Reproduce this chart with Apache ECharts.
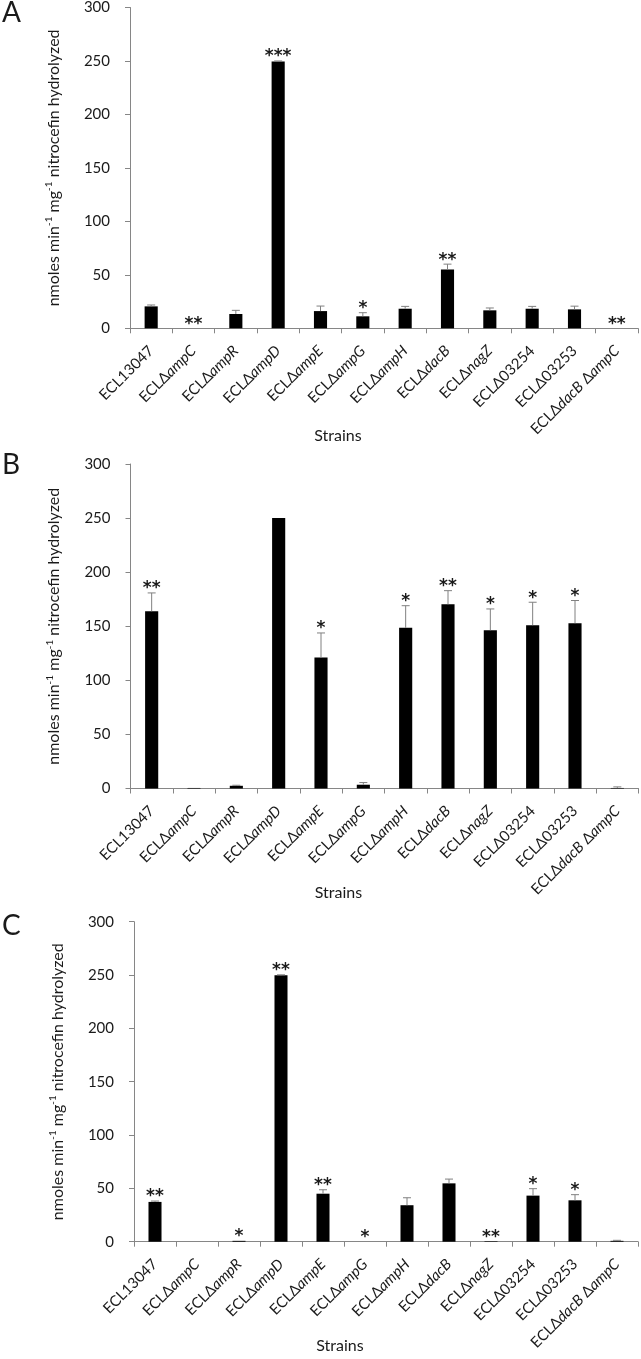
<!DOCTYPE html>
<html><head><meta charset="utf-8">
<script src="https://cdn.jsdelivr.net/npm/echarts@6/dist/echarts.min.js"></script>
<style>html,body{margin:0;padding:0;background:#fff}#c{width:641px;height:1359px}</style>
</head><body><div id="c"></div>
<script>
const strains = ['ECL13047','ECLΔampC','ECLΔampR','ECLΔampD','ECLΔampE','ECLΔampG','ECLΔampH','ECLΔdacB','ECLΔnagZ','ECLΔ03254','ECLΔ03253','ECLΔdacB ΔampC'];
const yTickValues = [0, 50, 100, 150, 200, 250, 300];

const valuesA = [20.5, 0, 13.4, 249.5, 16.1, 11.2, 18.3, 55.0, 16.8, 18.3, 17.7, 0];
const errorsA = [1.3, 0, 3.4, 0.5, 4.7, 3.4, 2.2, 5.0, 2.2, 2.2, 3.0, 0];
const starsA  = ['', '**', '', '***', '', '*', '', '**', '', '', '', '**'];

const valuesB = [163.8, 0.5, 2.5, 250, 121.0, 3.5, 148.5, 170.3, 146.3, 151.0, 152.8, 0.5];
const errorsB = [17.0, 0, 0.5, 0, 22.8, 2.0, 20.5, 12.6, 19.7, 21.2, 21.0, 1.0];
const starsB  = ['**', '', '', '', '*', '', '*', '**', '*', '*', '*', ''];

const valuesC = [37.3, 0, 0.8, 249.7, 45.0, 0, 34.2, 54.7, 0.5, 43.2, 38.8, 0.8];
const errorsC = [0.8, 0, 0, 0.5, 3.7, 0, 7.0, 4.0, 0, 6.5, 5.3, 0.5];
const starsC  = ['**', '', '*', '**', '**', '*', '', '', '**', '*', '*', ''];

const FONT = 'Lato';
const TXT = '#1a1a1a';
const AX = '#868686';

const grids = [
  {left: 130, top: 7.5, width: 508, height: 320.8},
  {left: 130.5, top: 464, width: 508, height: 324.5},
  {left: 134, top: 921.7, width: 504, height: 320}
];
const nameGaps = [100, 96, 96];

function fmt(v){ return v.replace(/Δ([A-Za-z]+)/g, 'Δ{i|$1}'); }

function makeRender(stars){
  return function(params, api){
    const i = api.value(0), v = api.value(1), e = api.value(2);
    const base = api.coord([i, v]);
    const top = api.coord([i, v + e]);
    const ch = [];
    if (e > 0) {
      ch.push({type:'line', shape:{x1:base[0], y1:base[1], x2:top[0], y2:top[1]}, style:{stroke:'#808080', lineWidth:1}});
      ch.push({type:'line', shape:{x1:top[0]-4, y1:top[1], x2:top[0]+4, y2:top[1]}, style:{stroke:'#808080', lineWidth:1}});
    }
    const s = stars[params.dataIndex];
    if (s) ch.push({type:'text', style:{text:s, x: top[0], y: top[1] - 4, align:'center', verticalAlign:'middle', font:'bold 17px "DejaVu Sans"', fill: TXT}});
    return {type:'group', children: ch};
  };
}

const xAxes = [], yAxes = [], series = [];
const sets = [[valuesA, errorsA, starsA],[valuesB, errorsB, starsB],[valuesC, errorsC, starsC]];
sets.forEach((st, g) => {
  xAxes.push({
    type:'category', gridIndex:g, data: strains,
    axisLine:{lineStyle:{color:AX, width:1}},
    axisTick:{show:true, length:5, lineStyle:{color:AX}},
    axisLabel:{rotate:45, margin:20, fontFamily:FONT, fontSize:15, color:TXT, interval:0, formatter: fmt,
      rich:{i:{fontStyle:'italic', fontFamily:FONT, fontSize:15, color:TXT}}},
    name:'Strains', nameLocation:'middle', nameGap: nameGaps[g], nameMoveOverlap:false,
    nameTextStyle:{fontFamily:FONT, fontSize:16, color:TXT, padding:[0, 92, 0, 0]}
  });
  yAxes.push({
    type:'value', gridIndex:g, min:0, max:300, interval:50,
    axisLine:{show:true, lineStyle:{color:AX, width:1}},
    axisTick:{show:true, length:5, lineStyle:{color:AX}},
    axisLabel:{margin:20, fontFamily:FONT, fontSize:15, color:TXT},
    splitLine:{show:false},
    name:'{a|nmoles min}{s|-1}{a| mg}{s|-1}{a| nitrocefin hydrolyzed}',
    nameLocation:'middle', nameGap:67, nameMoveOverlap:false,
    nameTextStyle:{rich:{
      a:{fontFamily:FONT, fontSize:16, color:TXT, lineHeight:19},
      s:{fontFamily:FONT, fontSize:10, color:TXT, lineHeight:19, verticalAlign:'top', padding:[0,0,7,0]}
    }}
  });
  series.push({type:'bar', xAxisIndex:g, yAxisIndex:g, data: st[0], barWidth:'31%', itemStyle:{color:'#000'}, animation:false, silent:true});
  series.push({type:'custom', xAxisIndex:g, yAxisIndex:g, data: st[0].map((v,i)=>[i, v, st[1][i]]), renderItem: makeRender(st[2]), z:5, animation:false, silent:true});
});

const chart = echarts.init(document.getElementById('c'), null, {renderer:'canvas'});
chart.setOption({
  backgroundColor:'#fff',
  animation:false,
  grid: grids,
  xAxis: xAxes,
  yAxis: yAxes,
  series: series,
  graphic: [
    {type:'text', left:2, top:-1, style:{text:'A', font:'28px ' + FONT, fill:TXT}},
    {type:'text', left:2, top:451, style:{text:'B', font:'28px ' + FONT, fill:TXT}},
    {type:'text', left:2, top:912, style:{text:'C', font:'28px ' + FONT, fill:TXT}}
  ]
});
</script></body></html>
